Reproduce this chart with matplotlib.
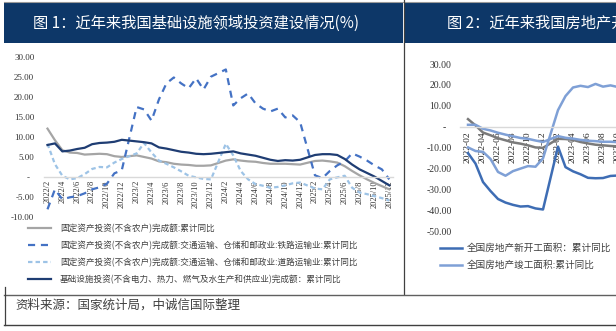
import matplotlib
matplotlib.use("Agg")
import matplotlib.pyplot as plt
from matplotlib.patches import Rectangle
from matplotlib.lines import Line2D
from matplotlib.font_manager import FontProperties

plt.rcParams['font.family'] = ['Noto Sans CJK SC', 'DejaVu Sans']

# ---------------- data: figure 1 (monthly, Jan merged into Feb) ----------------
left_periods = [f"{y}/{m}" for y in range(2022, 2026) for m in range(2, 13)]
left_ticklabels = [f"{y}/{m}" for y in range(2022, 2026) for m in range(2, 13, 2)]

fai_total = [12.2, 9.3, 6.8, 6.2, 6.1, 5.7, 5.8, 5.9, 5.8, 5.3, 5.1,
             5.5, 5.1, 4.7, 4.0, 3.8, 3.4, 3.2, 3.1, 2.9, 2.9, 3.0,
             4.2, 4.5, 4.2, 4.0, 3.9, 3.6, 3.4, 3.4, 3.4, 3.3, 3.2,
             4.1, 4.2, 4.0, 3.7, 2.8, 1.6, 0.5, -0.5, -1.4, -2.2, -3.0]
railway = [-8.0, -3.0, -5.5, -5.0, -4.7, -4.0, -3.0, -2.5, -1.6, 1.0, 1.8,
           17.6, 17.0, 14.2, 19.5, 23.5, 25.0, 23.5, 22.3, 24.8, 22.0, 25.2,
           27.0, 18.0, 19.8, 21.0, 18.5, 17.2, 16.5, 17.2, 15.0, 15.5, 13.8,
           0.5, -0.2, 1.6, 3.0, 4.0, 6.0, 5.2, 4.2, 3.0, 2.0, -0.5]
road = [8.4, 3.3, 0.4, -0.5, -0.2, 0.8, 2.1, 2.6, 2.5, 3.7, 4.6,
        6.0, 8.6, 6.2, 4.2, 3.4, 2.5, 1.5, 0.4, 0.0, -0.4, -0.5,
        8.4, 5.5, 1.6, -0.5, -1.7, -2.1, -2.6, -2.4, -2.0, -1.5, -1.3,
        -2.8, -3.0, -0.5, 0.0, 0.4, -2.6, -3.8, -4.2, -4.7, -5.2, -5.8]
infra = [8.1, 8.5, 6.5, 6.7, 7.1, 7.4, 8.3, 8.6, 8.7, 8.9, 9.4,
         9.0, 8.8, 8.5, 7.5, 7.2, 6.8, 6.4, 6.2, 5.9, 5.8, 5.9,
         6.3, 6.5, 6.0, 5.7, 5.4, 4.9, 4.4, 4.1, 4.3, 4.2, 4.4,
         5.6, 5.8, 5.8, 5.6, 4.6, 3.2, 2.0, 1.1, 0.2, -0.9, -2.0]

left_names = ["固定资产投资(不含农户)完成额:累计同比",
              "固定资产投资(不含农户)完成额:交通运输、仓储和邮政业:铁路运输业:累计同比",
              "固定资产投资(不含农户)完成额:交通运输、仓储和邮政业:道路运输业:累计同比",
              "基础设施投资(不含电力、热力、燃气及水生产和供应业)完成额：累计同比"]
left_yticks = [30, 25, 20, 15, 10, 5, 0, -5, -10]

# ---------------- data: figure 2 ----------------
right_periods = [f"{y}-{m:02d}" for y in range(2022, 2024) for m in range(2, 13)]
right_ticklabels = [f"{y}-{m:02d}" for y in range(2022, 2024) for m in range(2, 13, 2)]
new_start = [-12.5, -17.5, -26.3, -30.6, -34.4, -36.1, -37.2, -38.0, -37.8, -38.9, -39.4,
             -9.4, -19.2, -21.2, -22.6, -24.3, -24.5, -24.4, -23.4, -23.2, -21.2, -20.4]
completion = [-9.8, -11.5, -11.9, -15.3, -21.5, -23.3, -21.1, -19.9, -18.7, -19.0, -15.0,
              8.0, 14.7, 18.8, 19.6, 19.0, 20.5, 19.2, 19.8, 19.0, 17.9, 17.0]
construction = [1.0, 1.0, -0.9, -1.7, -2.8, -3.7, -4.5, -5.3, -5.7, -6.5, -7.2,
                -4.4, -5.2, -5.6, -6.2, -6.6, -6.8, -7.1, -7.1, -7.3, -7.2, -7.2]
re_invest = [3.7, 0.7, -2.7, -4.0, -5.4, -6.4, -7.4, -8.0, -8.8, -9.8, -10.0,
             -5.7, -5.8, -6.2, -7.2, -7.9, -8.5, -8.8, -9.1, -9.3, -9.4, -9.6]
right_names = ["全国房地产新开工面积：累计同比", "全国房地产竣工面积:累计同比"]
right_yticks = [30, 20, 10, 0, -10, -20, -30, -40, -50]

title1 = "图 1：近年来我国基础设施领域投资建设情况(%)"
title2 = "图 2：近年来我国房地产开发投资建设情况(%)"
source = "资料来源：国家统计局，中诚信国际整理"


def month_index(label, sep):
    y, m = label.split(sep)
    return (int(y) - 2022) * 12 + int(m) - 1


W, H = 616, 331
fig = plt.figure(figsize=(W / 100, H / 100), dpi=100)


def fx(x):
    return x / W


def fy(y):
    return 1 - y / H


NAVY = "#0d3768"
serif = FontProperties(family="Liberation Serif")

# banners
fig.add_artist(Rectangle((fx(4), fy(43)), fx(403) - fx(4), 41 / H, transform=fig.transFigure,
                         facecolor=NAVY, edgecolor="none"))
fig.add_artist(Rectangle((fx(405), fy(43)), fx(616) - fx(405), 41 / H, transform=fig.transFigure,
                         facecolor=NAVY, edgecolor="none"))
fig.text(fx(33), fy(23), title1, color="white", fontsize=11, va="center", ha="left")
fig.text(fx(447), fy(23), title2, color="white", fontsize=11, va="center", ha="left")

# frame lines
fig.add_artist(Line2D([fx(4), fx(616)], [fy(1.5), fy(1.5)], transform=fig.transFigure, color="#9a9a9a", lw=0.8))
fig.add_artist(Line2D([fx(404.3), fx(404.3)], [fy(0), fy(294)], transform=fig.transFigure, color="#404040", lw=0.9))
fig.add_artist(Line2D([fx(4), fx(616)], [fy(294.5), fy(294.5)], transform=fig.transFigure, color="#606060", lw=1.0))
fig.add_artist(Line2D([fx(4), fx(616)], [fy(325), fy(325)], transform=fig.transFigure, color="#404040", lw=1.0))
fig.add_artist(Line2D([fx(4.5), fx(4.5)], [fy(287), fy(325)], transform=fig.transFigure, color="#404040", lw=0.9))

fig.text(fx(15), fy(305), source, color="#404040", fontsize=9, va="center", ha="left", style="italic")

# ---------------- left chart ----------------
ax1 = fig.add_axes([fx(44), fy(217.3), fx(393) - fx(44), (217.3 - 57.5) / H])
xl = [month_index(p, "/") for p in left_periods]
ax1.plot(xl, fai_total, color="#a5a5a5", lw=1.6, label=left_names[0], solid_joinstyle="round")
ax1.plot(xl, railway, color="#4472c4", lw=1.6, dashes=(3.2, 2.6), label=left_names[1])
ax1.plot(xl, road, color="#9dc3e6", lw=1.6, dashes=(2.0, 1.4), label=left_names[2])
ax1.plot(xl, infra, color="#1f3d73", lw=1.6, label=left_names[3], solid_joinstyle="round")
ax1.set_ylim(-10, 30)
ax1.set_xlim(0.53, 47.5)
for s in ["top", "right", "left"]:
    ax1.spines[s].set_visible(False)
ax1.spines["bottom"].set_position(("data", 0))
ax1.spines["bottom"].set_color("#d9d9d9")
ax1.spines["bottom"].set_linewidth(1.0)
ax1.set_xticks([month_index(t, "/") for t in left_ticklabels])
ax1.set_xticklabels(left_ticklabels, rotation=90, fontproperties=serif, fontsize=6, color="#333333")
ax1.set_yticks(left_yticks)
ax1.set_yticklabels([("-  " if v == 0 else f"{v:.2f}") for v in left_yticks],
                    fontproperties=serif, fontsize=6.5, color="#333333")
ax1.tick_params(axis="x", length=0, pad=2)
ax1.tick_params(axis="y", length=0, pad=7)
ax1.patch.set_visible(False)
leg1 = ax1.legend(loc="upper left", bbox_to_anchor=(fx(28), fy(223.5)), bbox_transform=fig.transFigure,
                  frameon=False, borderpad=0, borderaxespad=0, handlelength=2.7, handletextpad=1.0,
                  labelspacing=0.9, prop=FontProperties(family=["Noto Sans CJK SC"], size=6.2))
for t in leg1.get_texts():
    t.set_color("#404040")

# ---------------- right chart ----------------
x_right_end = 816.75
ax2 = fig.add_axes([fx(460), fy(231.7), fx(x_right_end) - fx(460), (231.7 - 64) / H])
xr = [month_index(p, "-") for p in right_periods]
ax2.plot(xr, re_invest, color="#7a7a7a", lw=1.8, solid_joinstyle="round")
ax2.plot(xr, construction, color="#7fa0d6", lw=1.8, solid_joinstyle="round")
ax2.plot(xr, new_start, color="#3e6db4", lw=1.8, label=right_names[0], solid_joinstyle="round")
ax2.plot(xr, completion, color="#7fa0d6", lw=1.8, label=right_names[1], solid_joinstyle="round")
ax2.set_ylim(-50, 30)
ax2.set_xlim(-0.067, 47.5)
for s in ["top", "right", "left"]:
    ax2.spines[s].set_visible(False)
ax2.spines["bottom"].set_position(("data", 0))
ax2.spines["bottom"].set_color("#d9d9d9")
ax2.spines["bottom"].set_linewidth(1.0)
ax2.set_xticks([month_index(t, "-") for t in right_ticklabels])
ax2.set_xticklabels(right_ticklabels, rotation=90, fontproperties=serif, fontsize=6.8, color="#222222")
ax2.set_yticks(right_yticks)
ax2.set_yticklabels([("-  " if v == 0 else f"{v:.2f}") for v in right_yticks],
                    fontproperties=serif, fontsize=7, color="#333333")
ax2.tick_params(axis="x", length=0, pad=3)
ax2.tick_params(axis="y", length=0, pad=6)
ax2.patch.set_visible(False)
handles, labels = ax2.get_legend_handles_labels()
leg2 = ax2.legend(handles, labels, loc="upper left", bbox_to_anchor=(fx(440), fy(243.5)),
                  bbox_transform=fig.transFigure, frameon=False, borderpad=0, borderaxespad=0,
                  handlelength=2.3, handletextpad=0.45, labelspacing=0.8,
                  prop=FontProperties(family=["Noto Sans CJK SC"], size=6.9))
for t in leg2.get_texts():
    t.set_color("#404040")

fig.savefig("out.png", dpi=100)
